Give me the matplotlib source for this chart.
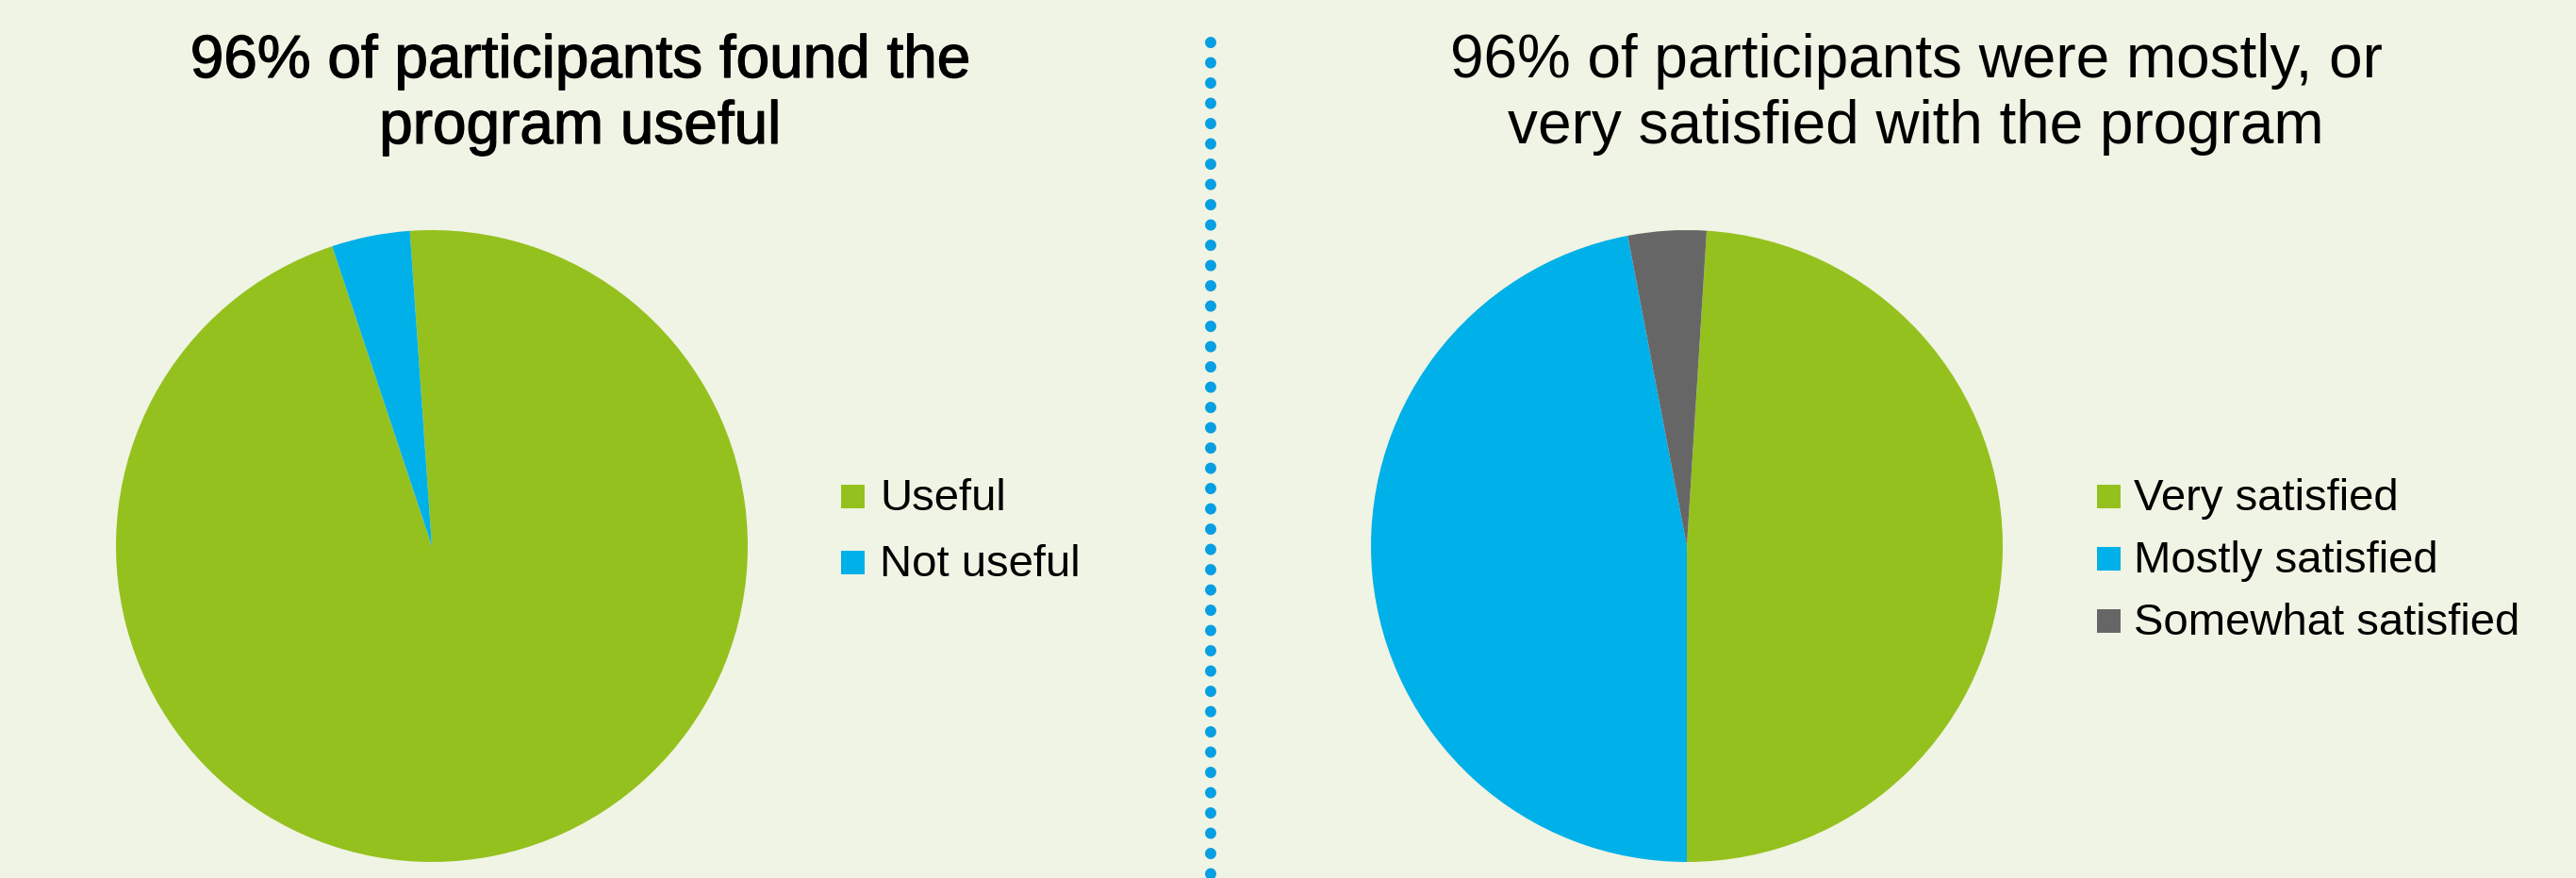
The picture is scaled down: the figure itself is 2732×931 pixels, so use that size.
import matplotlib
matplotlib.use("Agg")
import matplotlib.pyplot as plt
import matplotlib.patheffects as pe
from matplotlib.patches import Rectangle
from matplotlib.lines import Line2D
from matplotlib import font_manager

W, H = 2732, 931
DPI = 100

BG = "#f0f4e4"
GREEN = "#95c11f"
BLUE = "#00b0e8"
GREY = "#666666"
DOTS = "#079fe3"

# data
useful_labels = ["Useful", "Not useful"]
useful_values = [96, 4]
useful_colors = [GREEN, BLUE]

satisfied_labels = ["Very satisfied", "Mostly satisfied", "Somewhat satisfied"]
satisfied_values = [49, 47, 4]
satisfied_colors = [GREEN, BLUE, GREY]

left_title = ["96% of participants found the", "program useful"]
right_title = ["96% of participants were mostly, or", "very satisfied with the program"]


def pick_font():
    for name in ["Liberation Sans Narrow", "Liberation Sans", "DejaVu Sans"]:
        try:
            font_manager.findfont(font_manager.FontProperties(family=name),
                                  fallback_to_default=False)
            return name
        except ValueError:
            continue
    return "DejaVu Sans"


FONT = pick_font()
plt.rcParams["font.family"] = [FONT, "DejaVu Sans"]


def fx(x):
    return x / W


def fy(y):
    return 1 - y / H


def draw_pie(fig, cx, cy, r, values, colors, startangle):
    ax = fig.add_axes([fx(cx - r), fy(cy + r), 2 * r / W, 2 * r / H])
    ax.pie(values, colors=colors, startangle=startangle, counterclock=False,
           radius=1.0, wedgeprops=dict(linewidth=0))
    ax.set_xlim(-1, 1)
    ax.set_ylim(-1, 1)
    ax.set_aspect("equal")
    ax.axis("off")
    return ax


def draw_legend(fig, x_sq, text_x, baselines, labels, colors, size=34):
    for base, label, color in zip(baselines, labels, colors):
        fig.add_artist(Rectangle((fx(x_sq), fy(base - 2)), 25 / W, 25 / H,
                                 transform=fig.transFigure, color=color, lw=0))
        fig.text(fx(text_x), fy(base), label, fontsize=size, color="black",
                 ha="left", va="baseline")


def draw_title(fig, cx, baselines, lines, heavy=False):
    effects = [pe.withStroke(linewidth=0.9, foreground="black")] if heavy else None
    for base, line in zip(baselines, lines):
        fig.text(fx(cx), fy(base), line, fontsize=46, color="black",
                 ha="center", va="baseline", path_effects=effects)


fig = plt.figure(figsize=(W / DPI, H / DPI), dpi=DPI, facecolor=BG)

draw_pie(fig, 458, 579, 335, useful_values, useful_colors, startangle=94)
draw_pie(fig, 1789, 579, 335, satisfied_values, satisfied_colors, startangle=86.4)

draw_legend(fig, 892, 933, [541, 611], useful_labels, useful_colors)
draw_legend(fig, 2224, 2263, [541, 607, 673], satisfied_labels, satisfied_colors)

draw_title(fig, 615, [82, 152], left_title, heavy=True)
draw_title(fig, 2032, [82, 152], right_title)

# dotted divider
lw_pt = 12 * 72 / DPI
gap = 21.5 / 12
fig.add_artist(Line2D([fx(1284), fx(1284)], [fy(45), fy(H + 10)],
                      transform=fig.transFigure, color=DOTS, lw=lw_pt,
                      linestyle=(0, (0.01, gap - 0.01)),
                      dash_capstyle="round"))

fig.savefig("out.png", dpi=DPI, facecolor=BG)
